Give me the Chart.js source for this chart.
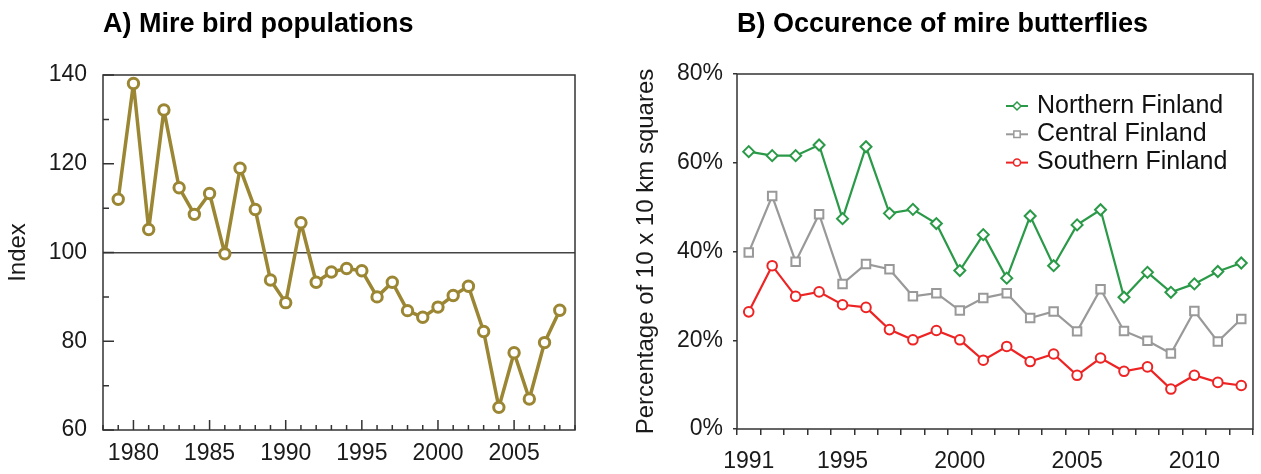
<!DOCTYPE html>
<html>
<head>
<meta charset="utf-8">
<script src="https://cdn.jsdelivr.net/npm/chart.js@4"></script>
<style>
  body { margin: 0; background: #fff; }
  #wrapA { position: absolute; left: 0; top: 0; width: 600px; height: 474px; }
  #wrapB { position: absolute; left: 600px; top: 0; width: 661px; height: 474px; }
</style>
</head>
<body>
<div id="wrapA"><canvas id="chartBirds"></canvas></div>
<div id="wrapB"><canvas id="chartButterflies"></canvas></div>
<script>
// A) bird index, one value per year
const birdYears = [1979, 1980, 1981, 1982, 1983, 1984, 1985, 1986, 1987, 1988,
                   1989, 1990, 1991, 1992, 1993, 1994, 1995, 1996, 1997, 1998,
                   1999, 2000, 2001, 2002, 2003, 2004, 2005, 2006, 2007, 2008];
const birdIndex = [112, 138.1, 105.2, 132.1, 114.6, 108.6, 113.3, 99.7, 119, 109.7,
                   93.8, 88.7, 106.7, 93.3, 95.6, 96.4, 95.9, 90, 93.3, 86.9,
                   85.4, 87.7, 90.3, 92.4, 82.2, 65.1, 77.4, 67, 79.7, 87];
const birdYearLabels = [1980, 1985, 1990, 1995, 2000, 2005];

// B) share of 10 x 10 km squares with mire butterflies (%)
const butterflyYears = ['1991', '1992', '1993', '1994', '1995', '1996', '1997', '1998',
                        '1999', '2000', '2001', '2002', '2003', '2004', '2005', '2006',
                        '2007', '2008', '2009', '2010', '2011', '2012'];
const northernFinland = [62.5, 61.6, 61.6, 64.0, 47.4, 63.6, 48.6, 49.5, 46.3, 35.7, 43.8,
                         34.0, 48.0, 36.8, 46.0, 49.4, 29.7, 35.3, 30.8, 32.7, 35.5, 37.4];
const centralFinland = [39.8, 52.5, 37.7, 48.4, 32.7, 37.2, 36.0, 29.9, 30.6, 26.7, 29.5,
                        30.6, 25.0, 26.5, 22.0, 31.5, 22.1, 19.9, 17.0, 26.6, 19.7, 24.8];
const southernFinland = [26.4, 36.8, 29.9, 30.9, 28.0, 27.4, 22.4, 20.1, 22.2, 20.1, 15.5,
                         18.6, 15.2, 16.9, 12.1, 16.0, 13.0, 14.0, 9.0, 12.1, 10.5, 9.8];
const butterflyYearLabels = ['1991', '1995', '2000', '2005', '2010'];

Chart.defaults.font.family = "'Liberation Sans', Arial, sans-serif";
Chart.defaults.color = '#1a1a1a';
Chart.defaults.animation = false;

const frameColor = '#333';

// ticks pointing into the plot, plus the box around it
const inwardTicks = {
  id: 'inwardTicks',
  afterDraw(chart) {
    const { ctx, chartArea: a, scales: { x, y } } = chart;
    ctx.save();
    ctx.strokeStyle = frameColor;
    ctx.lineWidth = 1.5;
    ctx.beginPath();
    x.ticks.forEach(t => {
      const px = x.getPixelForValue(t.value);
      const len = t.value % 5 === 0 ? 10 : 5;
      ctx.moveTo(px, a.bottom);
      ctx.lineTo(px, a.bottom - len);
    });
    y.ticks.forEach(t => {
      const py = y.getPixelForValue(t.value);
      const len = t.value % 20 === 0 ? 11 : 6;
      ctx.moveTo(a.left, py);
      ctx.lineTo(a.left + len, py);
    });
    ctx.stroke();
    ctx.strokeRect(a.left, a.top, a.right - a.left, a.bottom - a.top);
    ctx.restore();
  }
};

const plotFrame = {
  id: 'plotFrame',
  afterDraw(chart) {
    const { ctx, chartArea: a } = chart;
    ctx.save();
    ctx.strokeStyle = frameColor;
    ctx.lineWidth = 1.5;
    ctx.strokeRect(a.left, a.top, a.right - a.left, a.bottom - a.top);
    ctx.restore();
  }
};

// legend entries drawn as a short line with the marker on it
const lineLegend = {
  id: 'lineLegend',
  afterDraw(chart, args, opts) {
    const { ctx, chartArea: a } = chart;
    chart.data.datasets.forEach((ds, i) => {
      const cx = a.left + opts.left;
      const cy = a.top + opts.top + i * opts.rowGap;
      ctx.save();
      ctx.strokeStyle = ds.borderColor;
      ctx.lineWidth = 2;
      ctx.beginPath();
      ctx.moveTo(cx - 11, cy);
      ctx.lineTo(cx + 11, cy);
      ctx.stroke();
      ctx.fillStyle = '#fff';
      ctx.lineWidth = 1.5;
      Chart.helpers.drawPoint(ctx, {
        pointStyle: ds.pointStyle, radius: ds.legendRadius, rotation: 0, borderWidth: 1.5
      }, cx, cy);
      ctx.fillStyle = '#111';
      ctx.font = opts.font;
      ctx.textBaseline = 'middle';
      ctx.textAlign = 'left';
      ctx.fillText(ds.label, cx + 20, cy);
      ctx.restore();
    });
  }
};

new Chart(document.getElementById('chartBirds'), {
  type: 'line',
  data: {
    datasets: [{
      label: 'Index',
      data: birdYears.map((yr, i) => ({ x: yr, y: birdIndex[i] })),
      borderColor: '#9b8634',
      borderWidth: 3.5,
      borderJoinStyle: 'round',
      pointRadius: 5.2,
      pointBorderWidth: 3,
      pointBackgroundColor: '#fff',
      pointBorderColor: '#9b8634',
      tension: 0
    }]
  },
  options: {
    responsive: true,
    maintainAspectRatio: false,
    layout: { padding: { left: 0, right: 25, top: 0, bottom: 0 } },
    plugins: {
      legend: { display: false },
      tooltip: { enabled: false },
      title: {
        display: true,
        text: 'A) Mire bird populations',
        align: 'start',
        fullSize: false,
        color: '#000',
        font: { size: 27, weight: 'bold' },
        padding: { top: 8, bottom: 34.6 }
      }
    },
    scales: {
      x: {
        type: 'linear',
        min: 1978,
        max: 2009,
        afterFit: s => { s.height = 44; },
        grid: { display: false, drawTicks: false },
        border: { display: false },
        ticks: {
          stepSize: 1,
          autoSkip: false,
          maxRotation: 0,
          padding: 10,
          font: { size: 23 },
          callback: v => birdYearLabels.includes(v) ? String(v) : ''
        }
      },
      y: {
        min: 60,
        max: 140,
        afterFit: s => { s.width = 103; },
        grid: {
          drawTicks: false,
          lineWidth: 1.5,
          color: c => c.tick && c.tick.value === 100 ? '#444' : 'rgba(0,0,0,0)'
        },
        border: { display: false },
        title: { display: true, text: 'Index', font: { size: 24 }, padding: { top: 4, bottom: 0 } },
        ticks: {
          stepSize: 10,
          padding: 16,
          font: { size: 23 },
          callback: v => v % 20 === 0 ? v : ''
        }
      }
    }
  },
  plugins: [inwardTicks]
});

new Chart(document.getElementById('chartButterflies'), {
  type: 'line',
  data: {
    labels: butterflyYears,
    datasets: [
      {
        label: 'Northern Finland',
        data: northernFinland,
        borderColor: '#2a9a48',
        pointBorderColor: '#2a9a48',
        pointStyle: 'rectRot',
        pointRadius: 5.5,
        legendRadius: 4,
        borderWidth: 2.2,
        pointBorderWidth: 2,
        pointBackgroundColor: '#fff'
      },
      {
        label: 'Central Finland',
        data: centralFinland,
        borderColor: '#999999',
        pointBorderColor: '#999999',
        pointStyle: 'rect',
        pointRadius: 6,
        legendRadius: 4.5,
        borderWidth: 2.2,
        pointBorderWidth: 2,
        pointBackgroundColor: '#fff'
      },
      {
        label: 'Southern Finland',
        data: southernFinland,
        borderColor: '#ee2424',
        pointBorderColor: '#ee2424',
        pointStyle: 'circle',
        pointRadius: 4.8,
        legendRadius: 3.5,
        borderWidth: 2.2,
        pointBorderWidth: 2,
        pointBackgroundColor: '#fff'
      }
    ]
  },
  options: {
    responsive: true,
    maintainAspectRatio: false,
    layout: { padding: { left: 0, right: 1, top: 0, bottom: 0 } },
    plugins: {
      legend: { display: false },
      tooltip: { enabled: false },
      title: {
        display: true,
        text: 'B) Occurence of mire butterflies',
        align: 'start',
        fullSize: false,
        color: '#000',
        font: { size: 27, weight: 'bold' },
        padding: { top: 8, bottom: 33.6 }
      },
      lineLegend: { left: 280, top: 32, rowGap: 28.3, font: "25px 'Liberation Sans', Arial, sans-serif" }
    },
    scales: {
      x: {
        type: 'category',
        offset: true,
        afterFit: s => { s.height = 45; },
        grid: { drawOnChartArea: false, offset: true, tickLength: 6, color: frameColor, lineWidth: 1.5 },
        border: { display: false },
        ticks: {
          autoSkip: false,
          maxRotation: 0,
          padding: 13,
          font: { size: 23 },
          callback: function (v) {
            const lab = this.getLabelForValue(v);
            return butterflyYearLabels.includes(lab) ? lab : '';
          }
        }
      },
      y: {
        min: 0,
        max: 80,
        afterFit: s => { s.width = 137; },
        grid: { drawOnChartArea: false, tickLength: 4, color: frameColor, lineWidth: 1.5 },
        border: { display: false },
        title: {
          display: true,
          text: 'Percentage of 10 x 10 km squares',
          font: { size: 24 },
          padding: { top: 32, bottom: 0 }
        },
        ticks: {
          stepSize: 20,
          padding: 10,
          font: { size: 23 },
          callback: v => v + '%'
        }
      }
    }
  },
  plugins: [plotFrame, lineLegend]
});
</script>
</body>
</html>
